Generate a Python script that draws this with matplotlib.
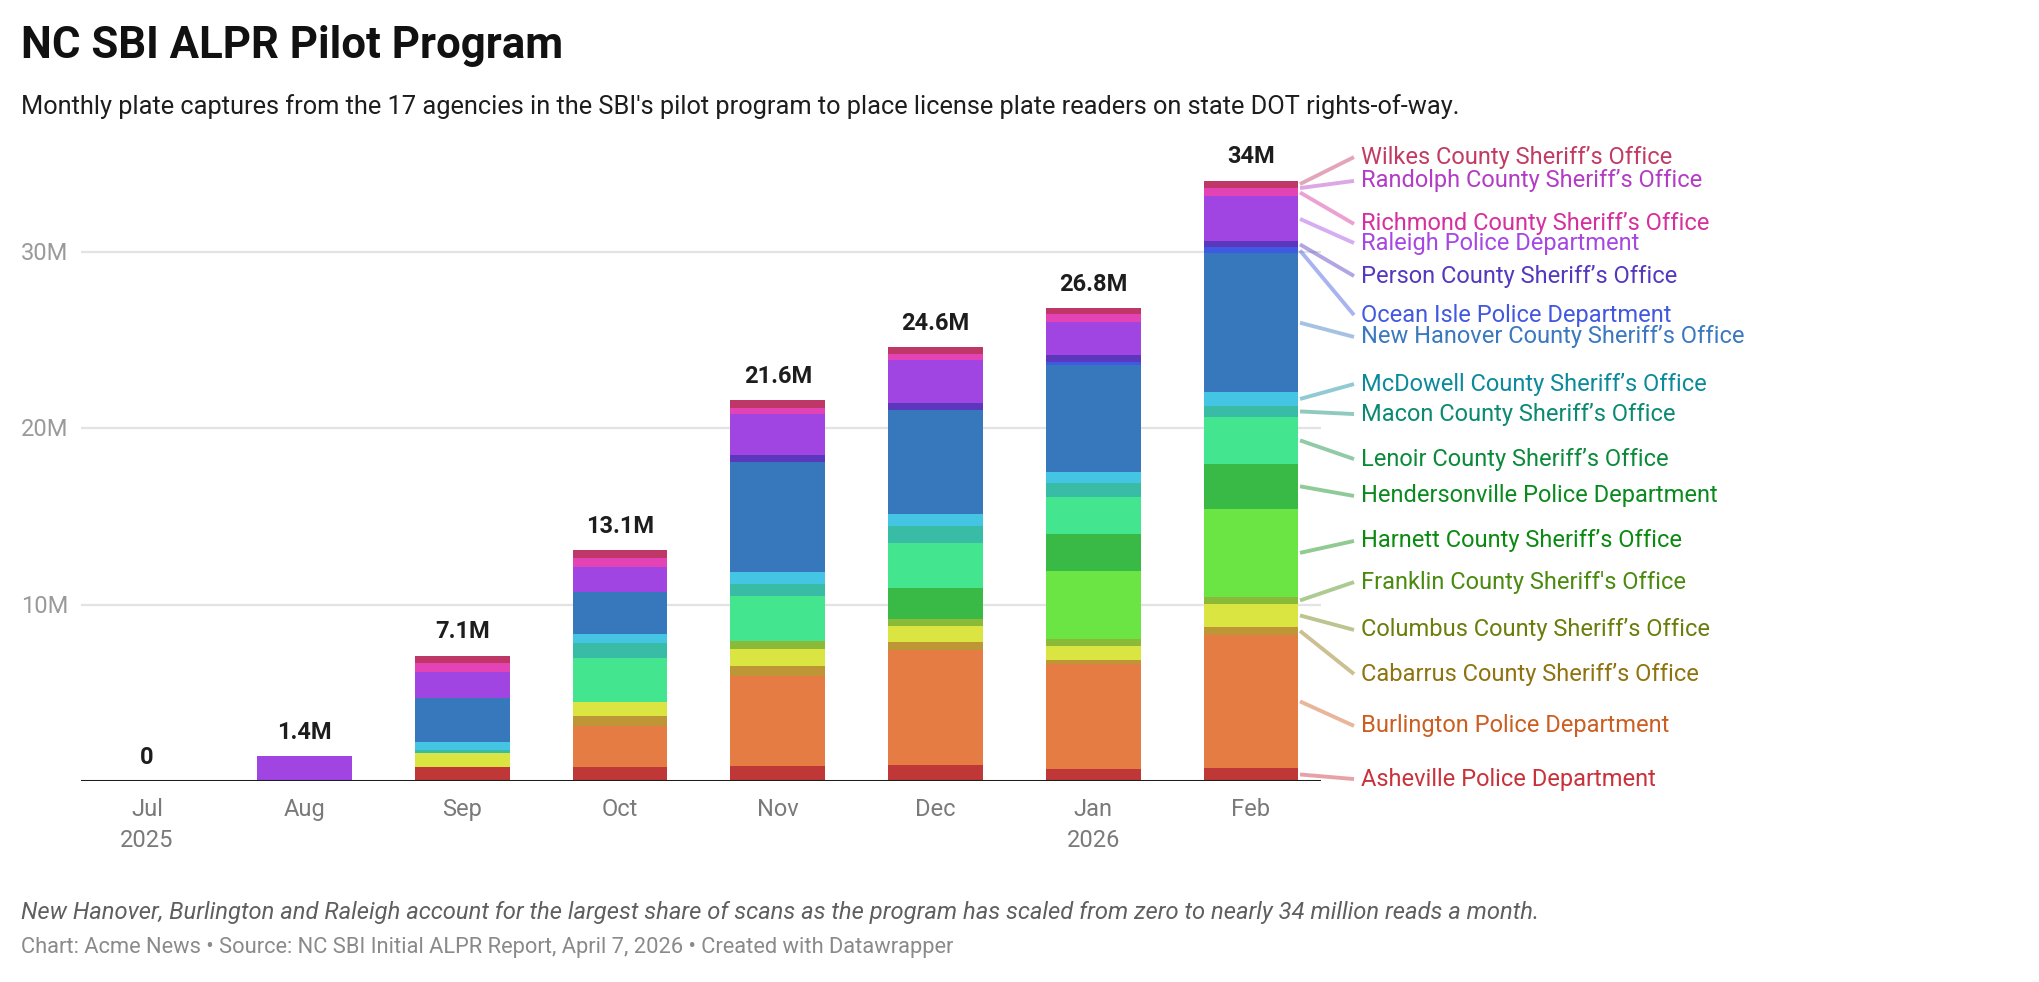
import matplotlib
matplotlib.use("Agg")
import matplotlib.pyplot as plt
import numpy as np

plt.rcParams['font.family'] = ['Roboto', 'DejaVu Sans']

# Data (millions of plate reads per month)
months = ["Jul\n2025", "Aug", "Sep", "Oct", "Nov", "Dec", "Jan\n2026", "Feb"]

agencies = [
    "Asheville Police Department",
    "Burlington Police Department",
    "Cabarrus County Sheriff’s Office",
    "Columbus County Sheriff’s Office",
    "Franklin County Sheriff's Office",
    "Harnett County Sheriff’s Office",
    "Hendersonville Police Department",
    "Lenoir County Sheriff’s Office",
    "Macon County Sheriff’s Office",
    "McDowell County Sheriff’s Office",
    "New Hanover County Sheriff’s Office",
    "Ocean Isle Police Department",
    "Person County Sheriff’s Office",
    "Raleigh Police Department",
    "Richmond County Sheriff’s Office",
    "Randolph County Sheriff’s Office",
    "Wilkes County Sheriff’s Office",
]

asheville      = [0, 0, 0.80, 0.79, 0.85, 0.91, 0.68, 0.74]
burlington     = [0, 0, 0, 2.32, 5.10, 6.50, 5.95, 7.54]
cabarrus       = [0, 0, 0, 0.57, 0.57, 0.45, 0.23, 0.45]
columbus       = [0, 0, 0.79, 0.79, 0.98, 0.91, 0.79, 1.30]
franklin       = [0, 0, 0, 0, 0.43, 0.40, 0.40, 0.40]
harnett        = [0, 0, 0, 0, 0, 0, 3.85, 4.99]
hendersonville = [0, 0, 0, 0, 0, 1.76, 2.10, 2.55]
lenoir         = [0, 0, 0, 2.49, 2.55, 2.55, 2.10, 2.66]
macon          = [0, 0, 0.17, 0.85, 0.68, 0.96, 0.79, 0.62]
mcdowell       = [0, 0, 0.45, 0.51, 0.68, 0.68, 0.62, 0.79]
new_hanover    = [0, 0, 2.52, 2.38, 6.23, 5.89, 6.06, 7.85]
ocean_isle     = [0, 0, 0, 0, 0, 0, 0.17, 0.34]
person         = [0, 0, 0, 0, 0.40, 0.40, 0.40, 0.34]
raleigh        = [0, 1.40, 1.47, 1.42, 2.32, 2.44, 1.87, 2.55]
richmond       = [0, 0, 0.51, 0.51, 0.34, 0.34, 0.45, 0.45]
randolph       = [0, 0, 0, 0, 0, 0, 0, 0.05]
wilkes         = [0, 0, 0.40, 0.45, 0.45, 0.40, 0.34, 0.40]

series = [asheville, burlington, cabarrus, columbus, franklin, harnett,
          hendersonville, lenoir, macon, mcdowell, new_hanover, ocean_isle,
          person, raleigh, richmond, randolph, wilkes]

bar_colors = ['#bf3737', '#e47c43', '#bf9636', '#dbe542', '#8aba37', '#6be544',
              '#39ba46', '#43e58f', '#38bca6', '#45c5e4', '#3777bc', '#3f5ae0',
              '#5a37bc', '#a044e2', '#e343b4', '#c040d0', '#bf3767']
label_colors = ['#c9323a', '#cc5e22', '#8f730f', '#6b7d0a', '#4a8a0e', '#0b8a10',
                '#0a8a1e', '#0b8a3a', '#0a8a72', '#0b8a9c', '#3a78c0', '#4258e0',
                '#5438c0', '#a548e3', '#d62f9e', '#b33cc6', '#c23b64']

# where the right-hand labels sit (in axis units, spread to avoid overlap)
label_y = [0.11, 3.12, 6.06, 8.56, 11.27, 13.60, 16.15, 18.24, 20.79, 22.49,
           25.16, 26.40, 28.61, 30.48, 31.56, 34.0, 35.35]

W, H = 2040, 982
fig = plt.figure(figsize=(W / 100, H / 100), dpi=100)

# axes placement in pixels
ax_left, ax_right, ax_bottom, ax_top = 81, 1321, 781, 150
ax = fig.add_axes([ax_left / W, 1 - ax_bottom / H,
                   (ax_right - ax_left) / W, (ax_bottom - ax_top) / H])

px_per_m = 17.65
ax.set_ylim(0, (ax_bottom - ax_top) / px_per_m)
band = 157.7
x0 = 147
ax.set_xlim((ax_left - x0) / band, (ax_right - x0) / band)

x = np.arange(len(months))
bottom = np.zeros(len(months))
for vals, col in zip(series, bar_colors):
    vals = np.array(vals)
    ax.bar(x, vals, bottom=bottom, width=0.6, color=col, linewidth=0, zorder=3)
    bottom += vals

totals = bottom


def fmt(v):
    if v == 0:
        return "0"
    s = f"{v:.1f}".rstrip('0').rstrip('.')
    return s + "M"


for xi, t in zip(x, totals):
    ax.annotate(fmt(t), (xi, t), xytext=(0, 17), textcoords='offset points',
                ha='center', va='center', fontsize=17, fontweight='bold',
                color='#1d1d1d', zorder=5)

# gridlines and axis
ax.set_yticks([10, 20, 30])
ax.yaxis.grid(True, color='#e3e3e3', linewidth=1.6, zorder=0)
ax.axhline(0, color='#1d1d1d', linewidth=2.2, zorder=4)
for sp in ax.spines.values():
    sp.set_visible(False)
ax.tick_params(axis='y', length=0, labelleft=False)
for v in [10, 20, 30]:
    fig.text(21 / W, 1 - (ax_bottom - v * px_per_m + 2) / H, f"{v}M",
             ha='left', va='center', fontsize=17, color='#9a9a9a')

ax.set_xticks(x)
ax.set_xticklabels(months, fontsize=17, color='#7a7a7a', linespacing=1.45)
ax.tick_params(axis='x', length=0, pad=12)

# leader lines and labels for the last bar
last = len(months) - 1
cum = 0
x_start = (1300 - x0) / band
x_end = (1354 - x0) / band
x_text = (1361 - x0) / band
for vals, lcol, name, ly in zip(series, label_colors, agencies, label_y):
    mid = cum + vals[last] / 2
    cum += vals[last]
    ax.plot([x_start, x_end], [mid, ly], color=lcol, alpha=0.45, linewidth=2.8,
            solid_capstyle='butt', clip_on=False, zorder=2)
    ax.text(x_text, ly, name, ha='left', va='center', fontsize=17, color=lcol,
            clip_on=False)

# header and footer
fig.text(21 / W, 1 - 46 / H, "NC SBI ALPR Pilot Program", ha='left', va='center',
         fontsize=31.5, fontweight='bold', color='#111111')
fig.text(21 / W, 1 - 107 / H,
         "Monthly plate captures from the 17 agencies in the SBI's pilot program to place license plate readers on state DOT rights-of-way.",
         ha='left', va='center', fontsize=18.25, color='#1d1d1d')
fig.text(21 / W, 1 - 912 / H,
         "New Hanover, Burlington and Raleigh account for the largest share of scans as the program has scaled from zero to nearly 34 million reads a month.",
         ha='left', va='center', fontsize=17.1, style='italic', color='#5f5f5f')
fig.text(21 / W, 1 - 948 / H,
         "Chart: Acme News • Source: NC SBI Initial ALPR Report, April 7, 2026 • Created with Datawrapper",
         ha='left', va='center', fontsize=15.75, color='#8a8a8a')

fig.savefig("out.png", dpi=100, facecolor='white')
